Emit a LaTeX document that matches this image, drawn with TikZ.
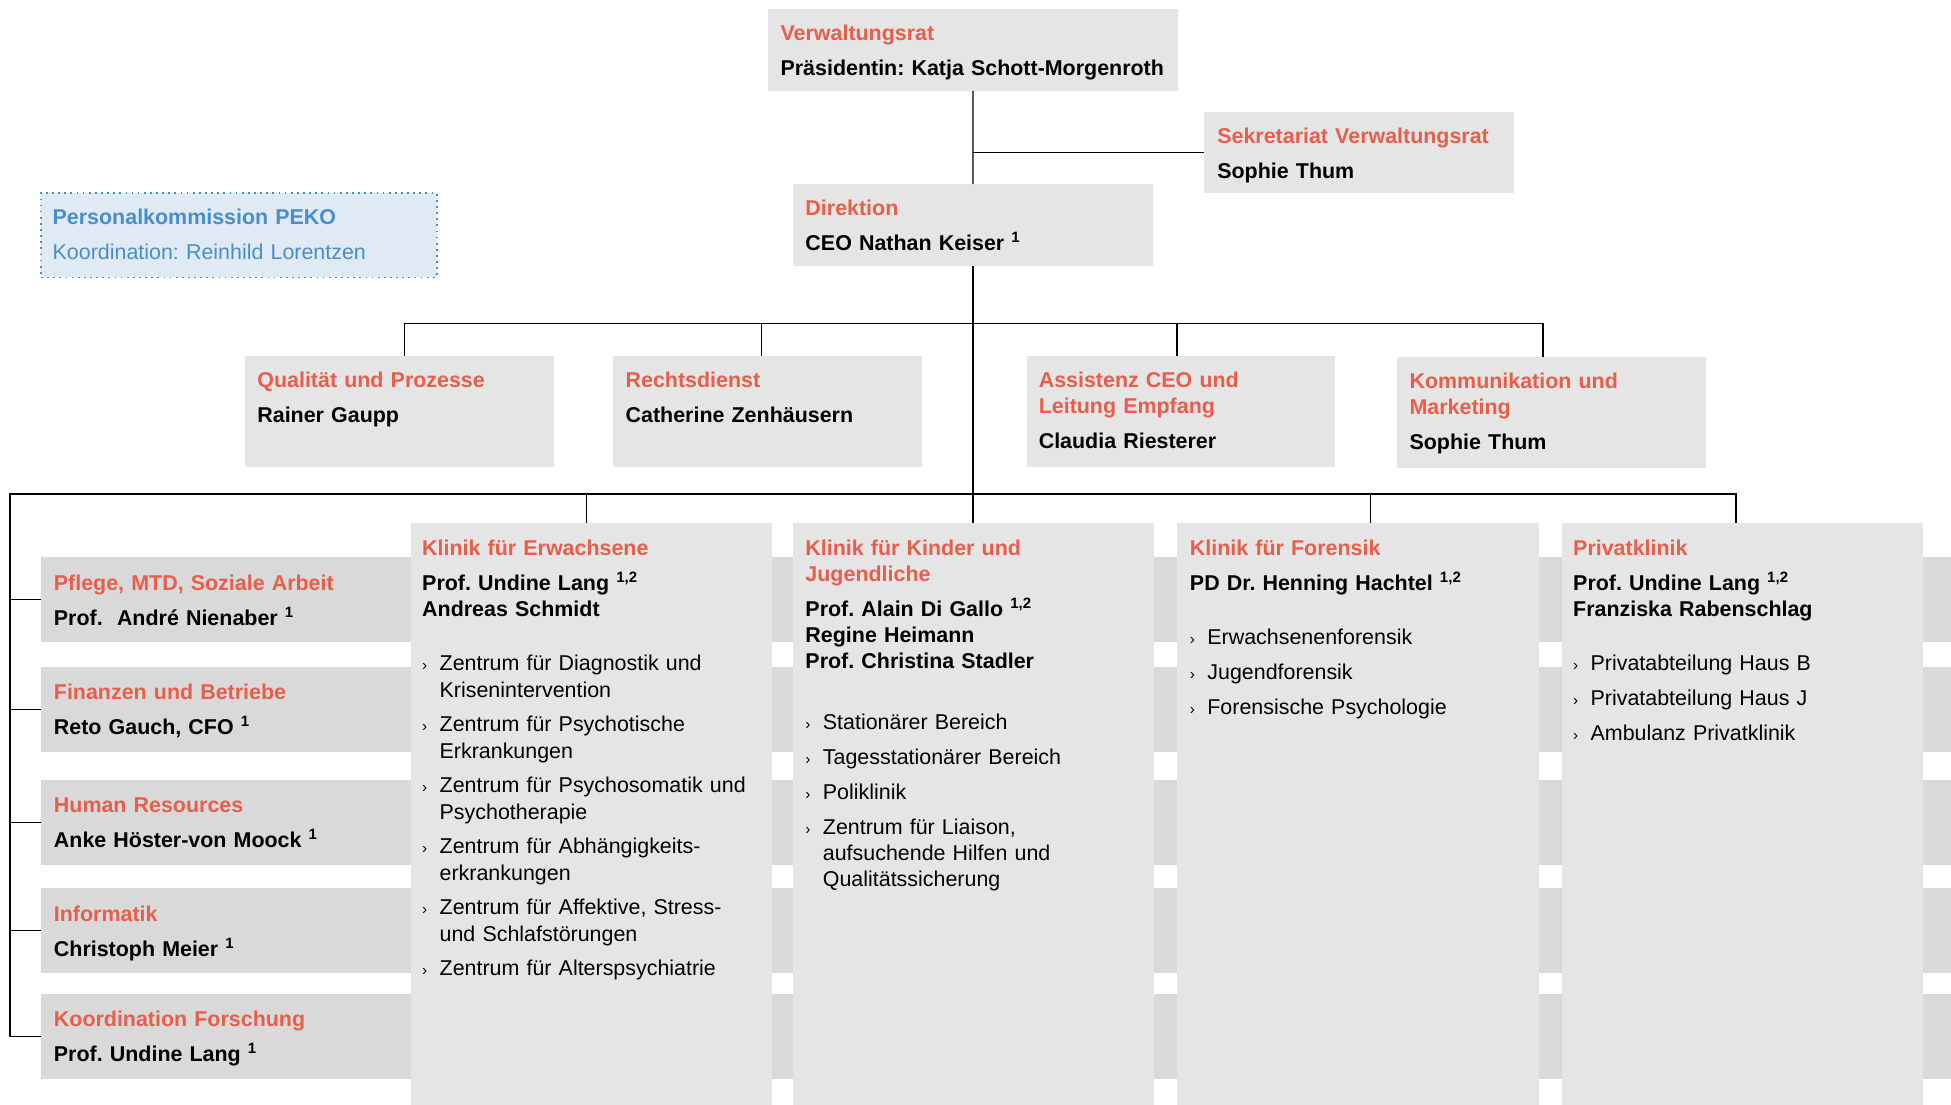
\documentclass[tikz,border=0pt]{standalone}
\usepackage{fontspec}
\setmainfont{Liberation Sans}
\setlength{\parindent}{0pt}
\frenchspacing

\definecolor{titlered}{RGB}{232,94,74}
\definecolor{pekoblue}{RGB}{74,141,204}
\definecolor{pekofill}{RGB}{224,234,245}
\definecolor{boxgray}{RGB}{229,229,229}
\definecolor{bandgray}{RGB}{217,217,217}

\newcommand{\ttl}[1]{{\bfseries\color{titlered}#1}}
\newcommand{\nam}[1]{{\bfseries #1}}
\newcommand{\pkt}{\makebox[0.28cm][l]{\fontsize{7}{8}\selectfont ›}}
\newcommand{\cnt}{\hspace*{0.28cm}}

\begin{document}
\begin{tikzpicture}[
    font=\fontsize{9.8}{11.95}\selectfont,
    box/.style={fill=boxgray, inner sep=0pt, outer sep=0pt, anchor=north west},
    staff/.style={box, minimum width=4.96cm, minimum height=1.78cm},
    clinic/.style={box, minimum width=5.81cm, minimum height=9.36cm},
    band/.style={box, fill=bandgray, minimum width=30.7cm, minimum height=1.36cm},
    txt/.style={anchor=north west, inner sep=0pt, align=left, text width=#1},
    txt/.default=5.4cm,
    conn/.style={draw=black, line width=0.6pt}
  ]
  \useasboundingbox (0,0) rectangle (31.36,-17.76);

  % top: board, secretariat, management
  \node[box, minimum width=6.6cm, minimum height=1.32cm] (vr) at (12.34,-0.14) {};
  \node[box, minimum width=4.98cm, minimum height=1.3cm] (sek) at (19.36,-1.8) {};
  \node[box, minimum width=5.8cm, minimum height=1.32cm] (dir) at (12.74,-2.96) {};
  \node[box, fill=pekofill, draw=pekoblue, dotted, line width=0.8pt,
        minimum width=6.36cm, minimum height=1.36cm] (peko) at (0.66,-3.1) {};

  % staff units
  \node[staff] (qual) at (3.94,-5.72) {};
  \node[staff] (recht) at (9.86,-5.72) {};
  \node[staff] (assist) at (16.5,-5.72) {};
  \node[staff] (komm) at (22.46,-5.74) {};

  % service bands (behind the clinics)
  \node[band] (pfl) at (0.66,-8.96) {};
  \node[band] (fin) at (0.66,-10.72) {};
  \node[band] (hr) at (0.66,-12.54) {};
  \node[band] (it) at (0.66,-14.28) {};
  \node[band] (fo) at (0.66,-15.98) {};

  % clinics
  \node[clinic] (erw) at (6.6,-8.4) {};
  \node[clinic] (kin) at (12.74,-8.4) {};
  \node[clinic] (fors) at (18.92,-8.4) {};
  \node[clinic] (priv) at (25.1,-8.4) {};

  % connectors
  \coordinate (sbus) at (15.64,-5.2);
  \coordinate (mbus) at (0.16,-7.94);
  \draw[conn] (vr.south) -- (dir.north);
  \draw[conn] (sek.west) -- (sek.west -| vr.south);
  \draw[conn] (dir.south) -- (dir.south |- kin.north);
  \draw[conn] ([xshift=0.08cm]qual.north) |- (sbus) -| ([xshift=-0.14cm]komm.north);
  \draw[conn] ([xshift=-0.1cm]recht.north) -- ([xshift=-0.1cm]recht.north |- sbus);
  \draw[conn] ([xshift=-0.06cm]assist.north) -- ([xshift=-0.06cm]assist.north |- sbus);
  \draw[conn] ([xshift=-0.1cm]priv.north) |- (mbus) |- (fo.west);
  \draw[conn] ([xshift=-0.08cm]erw.north) -- ([xshift=-0.08cm]erw.north |- mbus);
  \draw[conn] ([xshift=0.2cm]fors.north) -- ([xshift=0.2cm]fors.north |- mbus);
  \foreach \b in {pfl,fin,hr,it}
    \draw[conn] (\b.west) -- (\b.west -| mbus);

  % texts
  \node[txt=6.4cm] (vrtxt) at ([shift={(0.2,-0.25)}]vr.north west)
    {\ttl{Verwaltungsrat}\\[4pt]\nam{Präsidentin: Katja Schott-Morgenroth}};
  \node[txt=4.8cm] (sektxt) at ([shift={(0.2,-0.25)}]sek.north west)
    {\ttl{Sekretariat Verwaltungsrat}\\[4pt]\nam{Sophie Thum}};
  \node[txt] (dirtxt) at ([shift={(0.2,-0.25)}]dir.north west)
    {\ttl{Direktion}\\[4pt]\nam{CEO Nathan Keiser \textsuperscript{1}}};
  \node[txt=6cm, text=pekoblue] (pekotxt) at ([shift={(0.18,-0.25)}]peko.north west)
    {\textbf{Personalkommission PEKO}\\[4pt]Koordination: Reinhild Lorentzen};

  \node[txt=4.7cm] (qualtxt) at ([shift={(0.19,-0.25)}]qual.north west)
    {\ttl{Qualität und Prozesse}\\[4pt]\nam{Rainer Gaupp}};
  \node[txt=4.7cm] (rechttxt) at ([shift={(0.19,-0.25)}]recht.north west)
    {\ttl{Rechtsdienst}\\[4pt]\nam{Catherine Zenhäusern}};
  \node[txt=4.7cm] (assisttxt) at ([shift={(0.19,-0.25)}]assist.north west)
    {\ttl{Assistenz CEO und\\Leitung Empfang}\\[4pt]\nam{Claudia Riesterer}};
  \node[txt=4.7cm] (kommtxt) at ([shift={(0.19,-0.25)}]komm.north west)
    {\ttl{Kommunikation und\\Marketing}\\[4pt]\nam{Sophie Thum}};

  \node[txt] (pfltxt) at ([shift={(0.2,-0.27)}]pfl.north west)
    {\ttl{Pflege, MTD, Soziale Arbeit}\\[4pt]\nam{Prof.\ \ André Nienaber \textsuperscript{1}}};
  \node[txt] (fintxt) at ([shift={(0.2,-0.27)}]fin.north west)
    {\ttl{Finanzen und Betriebe}\\[4pt]\nam{Reto Gauch, CFO \textsuperscript{1}}};
  \node[txt] (hrtxt) at ([shift={(0.2,-0.27)}]hr.north west)
    {\ttl{Human Resources}\\[4pt]\nam{Anke Höster-von Moock \textsuperscript{1}}};
  \node[txt] (ittxt) at ([shift={(0.2,-0.27)}]it.north west)
    {\ttl{Informatik}\\[4pt]\nam{Christoph Meier \textsuperscript{1}}};
  \node[txt] (fotxt) at ([shift={(0.2,-0.27)}]fo.north west)
    {\ttl{Koordination Forschung}\\[4pt]\nam{Prof. Undine Lang \textsuperscript{1}}};

  \node[txt] (erwtxt) at ([shift={(0.18,-0.27)}]erw.north west)
    {\ttl{Klinik für Erwachsene}\\[4pt]
     \nam{Prof. Undine Lang \textsuperscript{1,2}\\Andreas Schmidt}\\[13pt]
     \pkt Zentrum für Diagnostik und\\\cnt Krisenintervention\\[4pt]
     \pkt Zentrum für Psychotische\\\cnt Erkrankungen\\[4pt]
     \pkt Zentrum für Psychosomatik und\\\cnt Psychotherapie\\[4pt]
     \pkt Zentrum für Abhängigkeits-\\\cnt erkrankungen\\[4pt]
     \pkt Zentrum für Affektive, Stress-\\\cnt und Schlafstörungen\\[4pt]
     \pkt Zentrum für Alterspsychiatrie};
  \node[txt] (kintxt) at ([shift={(0.2,-0.27)}]kin.north west)
    {\ttl{Klinik für Kinder und\\Jugendliche}\\[4pt]
     \nam{Prof. Alain Di Gallo \textsuperscript{1,2}\\Regine Heimann\\Prof. Christina Stadler}\\[16pt]
     \pkt Stationärer Bereich\\[4pt]
     \pkt Tagesstationärer Bereich\\[4pt]
     \pkt Poliklinik\\[4pt]
     \pkt Zentrum für Liaison,\\\cnt aufsuchende Hilfen und\\\cnt Qualitätssicherung};
  \node[txt] (forstxt) at ([shift={(0.2,-0.27)}]fors.north west)
    {\ttl{Klinik für Forensik}\\[4pt]
     \nam{PD Dr. Henning Hachtel \textsuperscript{1,2}}\\[13pt]
     \pkt Erwachsenenforensik\\[4pt]
     \pkt Jugendforensik\\[4pt]
     \pkt Forensische Psychologie};
  \node[txt] (privtxt) at ([shift={(0.18,-0.27)}]priv.north west)
    {\ttl{Privatklinik}\\[4pt]
     \nam{Prof. Undine Lang \textsuperscript{1,2}\\Franziska Rabenschlag}\\[13pt]
     \pkt Privatabteilung Haus B\\[4pt]
     \pkt Privatabteilung Haus J\\[4pt]
     \pkt Ambulanz Privatklinik};
\end{tikzpicture}
\end{document}
